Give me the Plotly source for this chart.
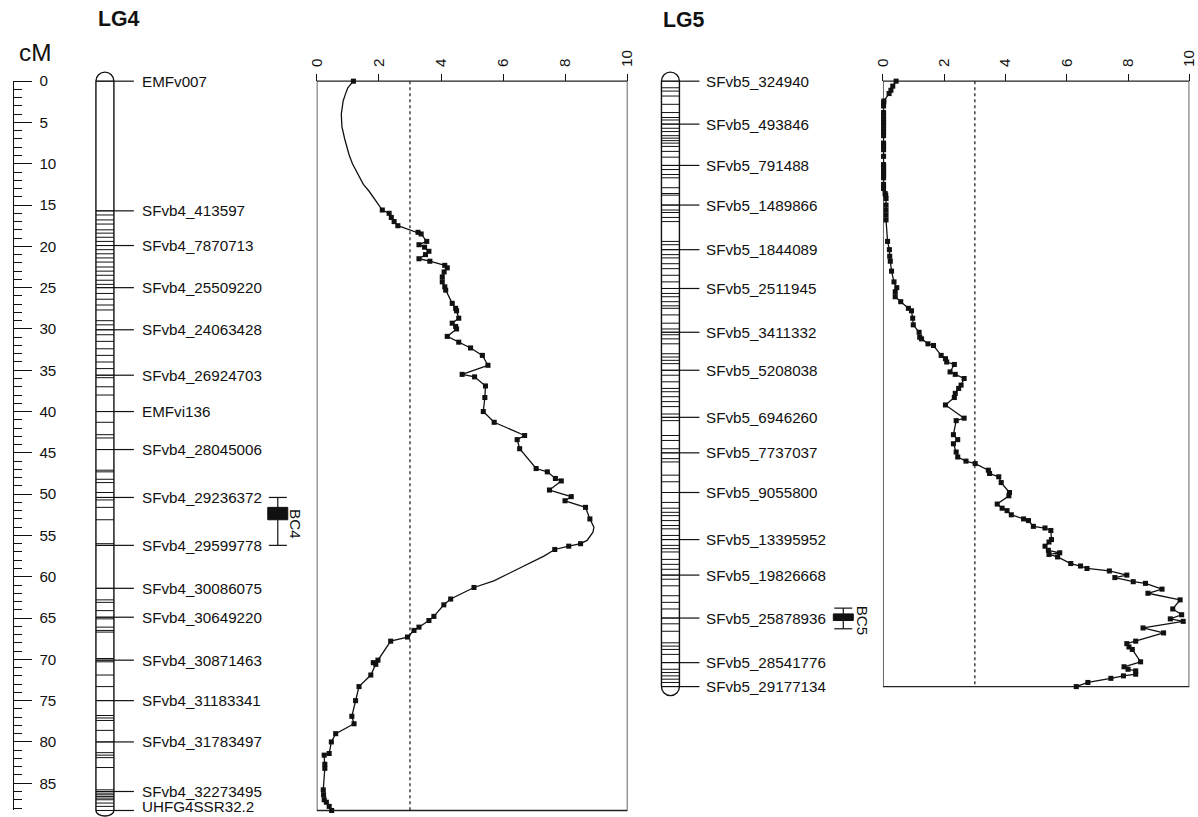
import plotly.graph_objects as go

# ---------------- canvas / scale constants ----------------
W, H = 1198, 817
# the photographed page appears as  picture = A + S * page ; targets below are picture pixels
A = 8.0
S = 1182.0 / 1198.0
PX = 8.24                    # picture pixels per cM
Y0 = 80.0                    # picture row of 0 cM
FONT = "Liberation Sans, Arial, Helvetica, sans-serif"

# ---------------- data ----------------
lg4_length = 88.3
lg5_length = 73.3

lg4_label_names = ["EMFv007", "SFvb4_413597", "SFvb4_7870713", "SFvb4_25509220",
                   "SFvb4_24063428", "SFvb4_26924703", "EMFvi136", "SFvb4_28045006",
                   "SFvb4_29236372", "SFvb4_29599778", "SFvb4_30086075", "SFvb4_30649220",
                   "SFvb4_30871463", "SFvb4_31183341", "SFvb4_31783497", "SFvb4_32273495",
                   "UHFG4SSR32.2"]
lg4_label_cm = [0.0, 15.7, 19.9, 25.0, 30.1, 35.6, 40.0, 44.6, 50.4, 56.2, 61.4, 64.9,
                70.1, 75.0, 80.0, 86.0, 88.3]

lg4_marker_cm = [0.0, 15.7, 16.2, 16.8, 17.3, 18.0, 18.4, 18.9, 19.4, 19.9, 20.4, 20.9,
                 21.4, 21.9, 22.5, 23.0, 23.5, 24.1, 24.6, 25.0, 25.7, 26.4, 27.1, 27.7,
                 29.0, 29.5, 30.1, 30.7, 31.5, 32.4, 33.2, 34.0, 34.8, 35.6, 35.9, 37.0,
                 38.0, 40.0, 41.3, 42.8, 43.2, 44.6, 47.1, 47.3, 48.2, 48.6, 49.8, 50.4,
                 50.7, 51.6, 53.1, 56.0, 56.2, 61.4, 62.8, 63.1, 64.1, 64.9, 65.1, 66.1,
                 66.5, 66.7, 69.9, 70.1, 70.3, 71.9, 73.3, 75.0, 76.8, 77.1, 77.4, 78.6,
                 80.0, 81.3, 81.6, 81.9, 83.1, 85.8, 86.0, 86.2, 86.4, 86.6, 86.8, 87.0,
                 87.4, 87.8, 88.3]

lg5_label_names = ["SFvb5_324940", "SFvb5_493846", "SFvb5_791488", "SFvb5_1489866",
                   "SFvb5_1844089", "SFvb5_2511945", "SFvb5_3411332", "SFvb5_5208038",
                   "SFvb5_6946260", "SFvb5_7737037", "SFvb5_9055800", "SFvb5_13395952",
                   "SFvb5_19826668", "SFvb5_25878936", "SFvb5_28541776", "SFvb5_29177134"]
lg5_label_cm = [0.0, 5.2, 10.2, 15.0, 20.4, 25.1, 30.4, 35.0, 40.7, 45.0, 49.8, 55.5,
                59.8, 65.0, 70.4, 73.3]

lg5_marker_cm = [0.0, 0.8, 1.2, 1.8, 2.8, 3.8, 4.4, 4.7, 5.2, 5.7, 6.1, 6.6, 6.9, 7.2,
                 7.5, 7.9, 8.5, 9.2, 10.2, 10.7, 11.3, 11.7, 12.9, 13.6, 13.8, 15.0, 15.6,
                 15.9, 16.5, 17.0, 19.4, 19.8, 20.4, 21.0, 21.4, 22.1, 22.7, 23.5, 24.3,
                 25.1, 25.7, 26.1, 26.7, 27.2, 27.5, 28.3, 29.3, 30.0, 30.4, 30.7, 31.2,
                 31.8, 33.0, 33.4, 33.8, 34.2, 35.0, 35.6, 36.4, 37.2, 37.6, 38.2, 38.8,
                 39.4, 40.3, 40.7, 41.1, 42.9, 43.5, 44.5, 45.0, 45.7, 46.1, 47.7, 48.5,
                 49.8, 51.0, 51.7, 52.2, 52.6, 53.2, 53.8, 54.2, 55.0, 55.5, 56.2, 56.6,
                 57.0, 57.9, 58.5, 59.1, 59.8, 60.3, 61.1, 62.3, 63.1, 63.9, 65.0, 65.7,
                 66.6, 68.0, 68.4, 68.8, 69.4, 70.4, 71.2, 71.6, 72.0, 72.4, 72.8, 73.3]

# LOD profile LG4: values at markers
lg4_lod_cm = [0.0, 15.6, 16.0, 16.5, 17.0, 17.5, 18.3, 18.5, 19.4, 19.8, 20.1, 20.6,
              21.0, 21.5, 21.8, 22.3, 22.6, 23.1, 23.7, 24.3, 24.9, 25.3, 26.9, 27.5,
              27.8, 28.7, 29.3, 29.7, 30.0, 30.9, 31.6, 32.3, 33.2, 34.4, 35.5, 35.8,
              36.9, 38.3, 40.0, 41.3, 42.9, 43.4, 44.5, 46.9, 47.3, 48.1, 48.4, 49.5,
              50.3, 50.8, 51.6, 53.0, 56.0, 56.3, 56.7, 61.3, 62.7, 63.4, 64.8, 65.3,
              66.1, 66.5, 67.3, 67.8, 70.1, 70.4, 70.6, 71.9, 73.3, 75.0, 76.9, 77.8,
              79.0, 80.0, 81.4, 81.6, 82.7, 83.2, 85.8, 86.4, 87.0, 87.3, 87.8, 88.3]
lg4_lod = [1.18, 2.11, 2.33, 2.40, 2.49, 2.61, 3.26, 3.36, 3.54, 3.29, 3.47, 3.61,
           3.50, 3.29, 3.64, 4.12, 4.20, 4.10, 4.04, 4.04, 4.12, 4.15, 4.36, 4.47,
           4.50, 4.57, 4.36, 4.47, 4.50, 4.20, 4.57, 4.95, 5.33, 5.51, 4.68, 5.08,
           5.43, 5.41, 5.36, 5.71, 6.69, 6.45, 6.53, 7.06, 7.42, 7.68, 7.87, 7.49,
           8.19, 7.99, 8.65, 8.79, 8.49, 8.11, 7.66, 5.06, 4.31, 4.09, 3.77, 3.61,
           3.29, 3.13, 2.92, 2.38, 1.97, 1.82, 1.90, 1.74, 1.36, 1.25, 1.13, 1.20,
           0.61, 0.47, 0.40, 0.24, 0.26, 0.26, 0.21, 0.22, 0.24, 0.31, 0.40, 0.48]
lg4_curve_cm = [0.8, 1.6, 2.4, 4.0, 5.5, 7.0, 8.9, 10.0, 11.3, 12.5, 13.3, 14.5,
                54.0, 54.6, 55.6, 57.5, 58.3, 59.3, 60.5]
lg4_curve_lod = [1.00, 0.92, 0.85, 0.79, 0.81, 0.90, 1.04, 1.15, 1.33, 1.50, 1.68, 1.90,
                 8.92, 8.89, 8.70, 7.31, 6.88, 6.35, 5.70]

# LOD profile LG5
lg5_lod_cm = [0.0, 0.6, 1.1, 1.5, 2.4, 2.6, 3.0, 3.8, 4.2, 4.6, 5.0, 5.3, 5.8, 6.2,
              6.6, 7.5, 7.9, 8.3, 9.1, 10.1, 10.4, 10.7, 11.0, 11.3, 11.7, 12.5, 13.0,
              13.6, 13.8, 14.2, 15.0, 15.6, 16.2, 16.8, 19.4, 20.4, 21.2, 21.8, 23.0,
              24.3, 25.0, 25.5, 26.1, 26.7, 27.5, 27.8, 28.7, 29.5, 30.4, 31.0, 31.2,
              31.8, 32.0, 33.2, 33.6, 34.0, 34.3, 35.2, 35.5, 36.0, 36.8, 37.2, 37.8,
              38.3, 39.2, 40.8, 41.1, 42.8, 43.4, 43.9, 44.9, 45.5, 46.0, 46.3, 47.1,
              47.5, 47.9, 48.6, 49.8, 50.2, 51.2, 51.7, 52.0, 52.5, 53.0, 53.2, 53.9,
              54.1, 54.4, 55.5, 55.8, 56.3, 56.8, 57.1, 57.3, 57.6, 58.4, 58.7, 59.0,
              59.3, 59.8, 60.1, 60.6, 60.8, 61.5, 62.0, 62.8, 63.9, 64.6, 65.1, 65.4,
              66.2, 66.8, 67.8, 68.1, 68.5, 68.8, 70.3, 70.9, 71.2, 71.4, 71.8, 72.0,
              72.3, 72.8, 73.3]
lg5_lod = [0.43, 0.32, 0.26, 0.20, 0.03, 0.02, 0.02, 0.02, 0.02, 0.02, 0.02, 0.02, 0.02, 0.02,
           0.02, 0.02, 0.02, 0.02, 0.02, 0.02, 0.02, 0.02, 0.02, 0.02, 0.02, 0.02, 0.02,
           0.07, 0.09, 0.10, 0.10, 0.10, 0.10, 0.10, 0.15, 0.21, 0.22, 0.24, 0.28,
           0.36, 0.45, 0.40, 0.40, 0.58, 0.83, 0.93, 0.97, 0.99, 1.18, 1.20, 1.26,
           1.47, 1.65, 1.90, 2.04, 2.08, 2.33, 2.19, 2.36, 2.65, 2.55, 2.47, 2.36,
           2.33, 2.04, 2.65, 2.39, 2.30, 2.44, 2.30, 2.39, 2.44, 2.71, 3.01, 3.44,
           3.48, 3.78, 3.86, 4.13, 4.11, 3.73, 3.89, 4.05, 4.19, 4.59, 4.75, 4.91,
           5.29, 5.48, 5.50, 5.42, 5.29, 5.40, 5.77, 5.42, 5.70, 6.13, 6.45, 6.66,
           7.39, 7.96, 7.57, 8.17, 8.57, 9.11, 8.65, 9.70, 9.46, 9.75, 9.38, 9.80,
           8.49, 9.16, 8.25, 7.96, 8.03, 8.14, 8.41, 7.87, 8.00, 8.25, 8.25, 7.85,
           7.44, 6.69, 6.31]

lod_ticks = [0, 2, 4, 6, 8, 10]
lod_range = [0, 10]
lod_threshold = 3.0

# QTL intervals: (outer low, outer high), (core low, core high)
qtl_names = ["BC4", "BC5"]
qtl_outer = [(50.4, 56.2), (63.8, 66.3)]
qtl_core = [(51.6, 53.1), (64.5, 65.3)]

# ---------------- layout constants (picture pixels) ----------------
LG4_BAR = (95, 113)
LG5_BAR = (661, 679)
LG4_CONN = (113, 133)
LG5_CONN = (679, 699)
LG4_TEXT_X = 139
LG5_TEXT_X = 704
QTL_X = [(267, 287, 294), (833, 853, 862)]   # box x0, x1, label x
LOD4_DOM = (316, 627)
LOD5_DOM = (882.7, 1189.3)
RULER_X = 12
T_MAX_Y = A + S * H
LABEL_MAX_CM = (T_MAX_Y - 10 - Y0) / PX     # keep the lowest label text inside the picture


def page(t):          # picture px -> page px
    return (t - A) / S


def fx(t):
    return page(t) / W


def fy(t):
    return 1 - page(t) / H


def sz(v):            # picture size -> page size
    return v / S


def segs(x0, x1, ys):
    xs, yy = [], []
    for y in ys:
        xs += [x0, x1, None]
        yy += [y, y, None]
    return xs, yy


def chrom_path(x0, x1, length, bottom_px):
    r = (x1 - x0) / 2.0
    xc = (x0 + x1) / 2.0
    ry = r / PX
    bottom_cm = (bottom_px - Y0) / PX
    rb = min(ry, bottom_cm - length)
    k = 0.5523
    t, b = 0.0, length
    return (f"M {x0},{t} C {x0},{t - k * ry} {xc - k * r},{t - ry} {xc},{t - ry} "
            f"C {xc + k * r},{t - ry} {x1},{t - k * ry} {x1},{t} L {x1},{b} "
            f"C {x1},{b + k * rb} {xc + k * r},{b + rb} {xc},{b + rb} "
            f"C {xc - k * r},{b + rb} {x0},{b + k * rb} {x0},{b} Z")


fig = go.Figure()
LC = "#111111"

for bar, conn, mk, lab in [(LG4_BAR, LG4_CONN, lg4_marker_cm, lg4_label_cm),
                           (LG5_BAR, LG5_CONN, lg5_marker_cm, lg5_label_cm)]:
    xs, ys = segs(bar[0], bar[1], mk + lab)
    fig.add_trace(go.Scatter(x=xs, y=ys, mode="lines", line=dict(color=LC, width=1),
                             hoverinfo="skip", showlegend=False, xaxis="x", yaxis="y"))
    xs, ys = segs(conn[0], conn[1], lab)
    fig.add_trace(go.Scatter(x=xs, y=ys, mode="lines", line=dict(color=LC, width=1.2),
                             hoverinfo="skip", showlegend=False, xaxis="x", yaxis="y"))

line4 = sorted(zip(lg4_lod_cm + lg4_curve_cm, lg4_lod + lg4_curve_lod))
fig.add_trace(go.Scatter(x=[v for _, v in line4], y=[c for c, _ in line4], mode="lines",
                         line=dict(color=LC, width=1.3), xaxis="x2", yaxis="y",
                         cliponaxis=False, hoverinfo="skip", showlegend=False))
fig.add_trace(go.Scatter(x=lg4_lod, y=lg4_lod_cm, mode="markers",
                         marker=dict(symbol="square", size=sz(5), color=LC),
                         xaxis="x2", yaxis="y", cliponaxis=False, showlegend=False))
fig.add_trace(go.Scatter(x=lg5_lod, y=lg5_lod_cm, mode="lines+markers",
                         line=dict(color=LC, width=1.3),
                         marker=dict(symbol="square", size=sz(5), color=LC),
                         xaxis="x3", yaxis="y", cliponaxis=False, showlegend=False))

fig.add_trace(go.Scatter(x=[None], y=[None], xaxis="x", yaxis="y2", showlegend=False,
                         hoverinfo="skip"))

shapes = []
for bar, ln in [(LG4_BAR, lg4_length), (LG5_BAR, lg5_length)]:
    shapes.append(dict(type="path", path=chrom_path(bar[0], bar[1], ln, T_MAX_Y - 1),
                       xref="x", yref="y", line=dict(color=LC, width=1.4),
                       fillcolor="white", layer="below"))
for xa, ln in [("x2", lg4_length), ("x3", lg5_length)]:
    shapes.append(dict(type="rect", xref=xa, yref="y", x0=lod_range[0], x1=lod_range[1],
                       y0=0, y1=ln, line=dict(color="#222222", width=1.4),
                       fillcolor="rgba(0,0,0,0)", layer="below"))
    shapes.append(dict(type="line", xref=xa, yref="y", x0=lod_threshold, x1=lod_threshold,
                       y0=0, y1=ln, line=dict(color=LC, width=1.2, dash="dot")))
annotations = []
for name, (lo, hi), (clo, chi), (bx0, bx1, lx) in zip(qtl_names, qtl_outer, qtl_core, QTL_X):
    xc = (bx0 + bx1) / 2.0
    shapes.append(dict(type="line", xref="x", yref="y", x0=xc, x1=xc, y0=lo, y1=hi,
                       line=dict(color=LC, width=1.2)))
    for yv in (lo, hi):
        shapes.append(dict(type="line", xref="x", yref="y", x0=bx0 + 1, x1=bx1 - 1,
                           y0=yv, y1=yv, line=dict(color=LC, width=1.2)))
    shapes.append(dict(type="rect", xref="x", yref="y", x0=bx0, x1=bx1, y0=clo, y1=chi,
                       line=dict(color=LC, width=1), fillcolor=LC))
    annotations.append(dict(x=lx, y=(lo + hi) / 2.0 + 0.3, xref="x", yref="y", text=name,
                            textangle=90, showarrow=False, xanchor="center", yanchor="middle",
                            font=dict(family=FONT, size=sz(15), color=LC)))

for names, cms, tx in [(lg4_label_names, lg4_label_cm, LG4_TEXT_X),
                       (lg5_label_names, lg5_label_cm, LG5_TEXT_X)]:
    for n, c in zip(names, cms):
        annotations.append(dict(x=tx, y=min(c, LABEL_MAX_CM), xref="x", yref="y", text=n,
                                showarrow=False, xanchor="left", yanchor="middle",
                                font=dict(family=FONT, size=sz(15), color=LC)))

annotations.append(dict(x=95, y=fy(18), xref="x", yref="paper", text="<b>LG4</b>",
                        showarrow=False, xanchor="left", yanchor="middle",
                        font=dict(family=FONT, size=sz(21), color=LC)))
annotations.append(dict(x=661, y=fy(19), xref="x", yref="paper", text="<b>LG5</b>",
                        showarrow=False, xanchor="left", yanchor="middle",
                        font=dict(family=FONT, size=sz(21), color=LC)))
annotations.append(dict(x=34, y=fy(51), xref="x", yref="paper", text="cM",
                        showarrow=False, xanchor="center", yanchor="middle",
                        font=dict(family=FONT, size=sz(24), color=LC)))

lod_axis = dict(range=lod_range, tickvals=lod_ticks, ticks="outside", ticklen=sz(7),
                tickwidth=1.2, tickcolor=LC, tickangle=-90, side="top", anchor="free",
                position=fy(Y0), showline=False, showgrid=False, zeroline=False,
                ticklabelstandoff=4,
                tickfont=dict(family=FONT, size=sz(15), color=LC), fixedrange=True)

fig.update_layout(
    width=W, height=H, autosize=False,
    margin=dict(l=0, r=0, t=0, b=0, pad=0),
    paper_bgcolor="white", plot_bgcolor="rgba(0,0,0,0)",
    showlegend=False,
    xaxis=dict(range=[A, A + S * W], domain=[0, 1], visible=False, fixedrange=True),
    yaxis=dict(range=[(T_MAX_Y - Y0) / PX, (A - Y0) / PX], domain=[0, 1], visible=False,
               fixedrange=True),
    xaxis2=dict(domain=[fx(LOD4_DOM[0]), fx(LOD4_DOM[1])], **lod_axis),
    xaxis3=dict(domain=[fx(LOD5_DOM[0]), fx(LOD5_DOM[1])], **lod_axis),
    yaxis2=dict(domain=[fy(Y0 + lg4_length * PX), fy(Y0)],
                range=[lg4_length, 0], anchor="free", position=fx(RULER_X), side="right",
                showline=True, linecolor=LC, linewidth=1.3,
                ticks="outside", ticklen=sz(18), tickwidth=1.2, tickcolor=LC,
                tick0=0, dtick=5, showgrid=False, zeroline=False,
                ticklabelstandoff=4,
                minor=dict(tick0=0, dtick=1, ticks="outside", ticklen=sz(8), tickwidth=1,
                           tickcolor=LC, showgrid=False),
                tickfont=dict(family=FONT, size=sz(15), color=LC), fixedrange=True),
    shapes=shapes,
    annotations=annotations,
)

fig.write_html("out.html", config={"displayModeBar": False},
               post_script="document.body.style.margin='0';")
